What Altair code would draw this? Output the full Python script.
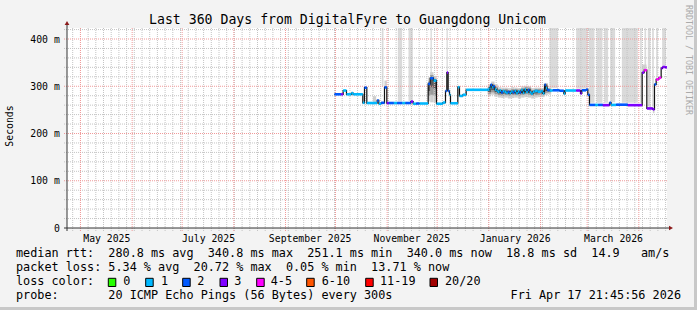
import altair as alt
import pandas as pd

# ---------------- data ----------------
T_START = "2025-04-22T21:45:56Z"
T_END = "2026-04-17T21:45:56Z"
BASE = "2025-10-01T00:00:00Z"          # day offsets below are counted from here

LOSS_LABELS = ["0", "1", "2", "3", "4-5", "6-10", "11-19", "20/20"]
LOSS_COLORS = ["#26ff00", "#00b8ff", "#0059ff", "#7e00ff", "#ff00ff", "#ff5500", "#ff0000", "#a10000"]

# median rtt step series: start day, value (ms), loss bucket (index into LOSS_LABELS)
med_day = [-0.6, 3.4, 4.6, 6.6, 9.6, 10.6, 16.4, 17.4, 18.8, 25.0, 26.0, 27.4, 29.4, 30.8,
           32.0, 35.0, 37.0, 40.0, 42.0, 45.2, 46.6, 48.4, 50.4, 55.6, 56.8, 58.8, 60.6, 64.4,
           66.0, 66.8, 67.6, 68.4, 69.0, 73.4, 74.4, 76.4, 78.4,
           91.4, 92.4, 93.0, 94.0, 94.8, 95.6, 96.6, 97.4, 98.4, 99.4, 100.4, 101.4, 102.4,
           103.4, 104.4, 105.4, 106.4, 107.4, 108.4, 109.4, 110.4, 111.4, 112.4, 113.4, 114.4,
           115.4, 116.4, 117.4, 118.4, 119.4, 121.4, 123.4, 124.4, 125.4, 126.2, 127.0, 128.4,
           130.4, 134.4, 137.0, 137.8, 144.4, 147.0, 147.8, 150.4, 151.4, 152.4, 155.8, 157.6,
           160.4, 164.4, 165.4, 168.4, 175.4, 184.0, 185.2, 186.8, 190.4, 191.4, 192.4, 194.0,
           195.4, 196.2, 198.0]
med_ms = [283.0, 283.0, 291.0, 283.0, 285.5, 283.0, 265.0, 297.0, 264.5, 270.0, 263.0, 265.0, 297.5, 264.5,
          264.5, 264.5, 264.5, 264.5, 264.5, 267.5, 263.0, 263.5, 263.5, 305.0, 317.0, 312.0, 263.0, 265.5,
          290.0, 329.0, 290.0, 282.0, 264.0, 298.0, 279.5, 282.0, 292.5,
          293.0, 297.0, 303.0, 298.0, 300.0, 293.0, 290.0, 288.0, 291.0, 287.0, 290.0, 288.0, 286.0,
          288.0, 285.5, 289.0, 287.0, 290.0, 285.5, 289.0, 287.0, 292.0, 286.0, 293.0, 288.0,
          292.0, 287.0, 284.5, 288.0, 290.0, 288.5, 290.0, 285.0, 303.0, 296.0, 292.0, 291.0,
          291.5, 290.5, 284.5, 291.0, 291.0, 285.0, 291.5, 293.0, 282.0, 260.5, 260.5, 260.5,
          260.0, 265.0, 260.5, 261.0, 260.0, 329.0, 334.0, 253.0, 251.1, 304.0, 314.5, 318.0,
          338.0, 340.8, 340.0]
med_loss = [2, 3, 1, 1, 1, 1, 1, 2, 1, 2, 1, 2, 2, 3,
            2, 1, 2, 1, 2, 3, 1, 2, 1, 2, 2, 1, 1, 1,
            2, 3, 2, 1, 1, 1, 1, 1, 1,
            1, 1, 2, 1, 2, 1, 1, 1, 1, 2, 1, 1, 1,
            2, 1, 1, 2, 1, 1, 1, 2, 1, 1, 1, 1,
            2, 1, 1, 1, 1, 1, 1, 1, 2, 1, 2, 1,
            2, 2, 1, 1, 3, 3, 2, 2, 2, 2, 1, 2,
            3, 2, 1, 2, 3, 3, 4, 3, 3, 2, 4, 4,
            3, 3, 3]

# smoke (spread of the individual pings): start, end, low, high per shade
smoke_outer = [  # (day0, day1, lo, hi)
    (22.4, 24.4, 264, 279), (29.4, 30.8, 297, 312), (55.6, 56.8, 268, 318),
    (56.8, 58.8, 266, 330), (58.8, 60.6, 266, 322), (184.0, 186.6, 334, 346),
    (190.4, 191.4, 243, 251)]
noisy_day = [91.4, 93.4, 95.4, 97.4, 99.4, 101.4, 103.4, 105.4, 107.4, 109.4, 111.4, 113.4,
             115.4, 117.4, 119.4, 121.4, 123.4, 125.4, 127.4, 129.4]
noisy_out_lo = [279, 282, 278, 276, 275, 276, 274, 275, 276, 274, 276, 277, 276, 274, 276, 277, 277, 281, 283]
noisy_out_hi = [303, 310, 304, 298, 297, 297, 296, 298, 297, 296, 300, 301, 300, 296, 297, 297, 296, 307, 297]
noisy_mid_lo = [284, 287, 283, 281, 280, 281, 280, 281, 281, 280, 282, 283, 282, 280, 281, 282, 281, 286, 287]
noisy_mid_hi = [299, 305, 299, 294, 293, 294, 292, 294, 294, 293, 296, 298, 297, 292, 294, 294, 293, 304, 295]
noisy_in_lo = [288, 292, 287, 285, 284, 285, 284, 284, 285, 284, 286, 287, 286, 284, 285, 286, 285, 290, 289]
noisy_in_hi = [296, 302, 296, 291, 290, 291, 289, 291, 291, 290, 293, 295, 294, 289, 291, 291, 290, 301, 293]
spike_mid = [(55.6, 56.8, 280, 310), (56.8, 58.8, 282, 324), (58.8, 60.6, 280, 316)]
spike_in = [(55.6, 56.8, 290, 306), (56.8, 58.8, 298, 320), (58.8, 60.6, 295, 314)]

# pings above the top of the graph: light bars from the top down to this value
tall_bars = [(27.8, 28.8, 300), (37.4, 40.0, 268), (43.8, 46.4, 269), (57.0, 57.8, 325),
             (66.6, 67.4, 331), (128.4, 133.4, 296), (144.4, 151.4, 295), (152.0, 155.4, 265),
             (156.6, 160.2, 265), (161.2, 163.6, 265), (164.8, 167.8, 266), (171.8, 181.4, 265),
             (182.8, 183.8, 265), (185.4, 186.4, 338), (187.4, 189.0, 257), (190.0, 191.0, 257),
             (192.4, 193.4, 318), (196.0, 198.4, 344)]

TITLE = "Last 360 Days from DigitalFyre to Guangdong Unicom"
LEGEND_LINES = [
    "median rtt:  280.8 ms avg  340.8 ms max  251.1 ms min  340.0 ms now  18.8 ms sd  14.9   am/s",
    "packet loss: 5.34 % avg  20.72 % max  0.05 % min  13.71 % now",
    "loss color:",
    "probe:       20 ICMP Echo Pings (56 Bytes) every 300s",
]
DATE_TEXT = "Fri Apr 17 21:45:56 2026"
Y_TICKS = [0, 100, 200, 300, 400]
MONTH_LABELS = ["2025-05-16T12:00:00Z", "2025-07-16T12:00:00Z", "2025-09-15T12:00:00Z",
                "2025-11-15T12:00:00Z", "2026-01-16T12:00:00Z", "2026-03-16T12:00:00Z"]

# ---------------- helpers ----------------
def ms_of(s):
    return int(pd.Timestamp(s).value // 10**6)

base_ms = ms_of(BASE)
start_ms = ms_of(T_START)
end_ms = ms_of(T_END)
DAY = 86400000


def ts(d):
    return base_ms + d * DAY


MONO = "DejaVu Sans Mono"
XS = alt.Scale(type="utc", domain=[start_ms, end_ms], nice=False)
YS = alt.Scale(domain=[0, 423.3], nice=False, zero=True)
XAX = alt.Axis(values=[ms_of(s) for s in MONTH_LABELS], format="%B %Y", labelFont=MONO,
               labelFontSize=9.8, labelColor="#000000", ticks=False, domain=False, grid=False,
               labelPadding=5, title=None, labelFlush=False, labelOverlap=False)
YAX = alt.Axis(values=Y_TICKS, labelExpr="datum.value == 0 ? '0\u00a0\u00a0' : datum.value + '\u00a0m'",
               labelFont=MONO, labelFontSize=9.8, labelColor="#000000", ticks=False,
               domain=False, grid=False, labelPadding=7.7, title=None)


def X(f):
    return alt.X(f, type="temporal", scale=XS, axis=XAX)


def Y(f):
    return alt.Y(f, type="quantitative", scale=YS, axis=YAX)


# ---------------- tables ----------------
seg = pd.DataFrame({
    "t": [ts(d) for d in med_day],
    "t2": [ts(d) for d in med_day[1:]] + [end_ms],
    "v": med_ms,
    "loss": [LOSS_LABELS[i] for i in med_loss],
})
line_df = pd.DataFrame({"t": list(seg["t"]) + [end_ms], "v": med_ms + [med_ms[-1]]})

bars_df = pd.DataFrame({"t": [ts(a) for a, b, c in tall_bars], "t2": [ts(b) for a, b, c in tall_bars],
                        "lo": [c for a, b, c in tall_bars]})


def rect_df(items):
    return pd.DataFrame({"t": [ts(a) for a, b, c, d in items], "t2": [ts(b) for a, b, c, d in items],
                         "lo": [c for a, b, c, d in items], "hi": [d for a, b, c, d in items]})


def noisy_df(lo, hi):
    return pd.DataFrame({"t": [ts(d) for d in noisy_day[:-1]], "t2": [ts(d) for d in noisy_day[1:]],
                         "lo": lo, "hi": hi})


smoke0 = pd.concat([rect_df(smoke_outer), noisy_df(noisy_out_lo, noisy_out_hi)])
smoke1 = pd.concat([rect_df(spike_mid), noisy_df(noisy_mid_lo, noisy_mid_hi)])
smoke2 = pd.concat([rect_df(spike_in), noisy_df(noisy_in_lo, noisy_in_hi)])

# grid positions
minor_h = pd.DataFrame({"g": [v for v in range(20, 424, 20) if v % 100 != 0]})
major_h = pd.DataFrame({"g": [100, 200, 300, 400]})
major_v = pd.DataFrame({"g": [ms_of(f"{y}-{m:02d}-01T00:00:00Z") for y, m in
                              [(2025, 5), (2025, 6), (2025, 7), (2025, 8), (2025, 9), (2025, 10),
                               (2025, 11), (2025, 12), (2026, 1), (2026, 2), (2026, 3), (2026, 4)]]})
minor_v_list = []
t = start_ms + 3.42 * DAY
while t < end_ms:
    minor_v_list.append(t)
    t += 4.62 * DAY
minor_v = pd.DataFrame({"g": minor_v_list})

color_scale = alt.Scale(domain=LOSS_LABELS, range=LOSS_COLORS)
one = alt.Data(values=[{}])

# ---------------- layers ----------------
layers = []
layers.append(alt.Chart(bars_df).mark_rect(color="#dadada").encode(
    x=X("t"), x2="t2", y=Y("lo"), y2=alt.value(0)))
for df, col in [(smoke0, "#cfcfcf"), (smoke1, "#9a9a9a"), (smoke2, "#5a5a5a")]:
    layers.append(alt.Chart(df).mark_rect(color=col).encode(x=X("t"), x2="t2", y=Y("lo"), y2="hi"))

layers.append(alt.Chart(minor_h).mark_rule(color="#c4c4c4", strokeDash=[1, 1], strokeWidth=1).encode(
    y=Y("g"), x=alt.value(-3), x2=alt.value(600)))
layers.append(alt.Chart(minor_v).mark_rule(color="#c4c4c4", strokeDash=[1, 1], strokeWidth=1).encode(
    x=X("g"), y=alt.value(0), y2=alt.value(203)))
layers.append(alt.Chart(major_h).mark_rule(color="#f09a9a", strokeDash=[1, 1], strokeWidth=1).encode(
    y=Y("g"), x=alt.value(-3), x2=alt.value(600)))
layers.append(alt.Chart(major_v).mark_rule(color="#f09a9a", strokeDash=[1, 1], strokeWidth=1).encode(
    x=X("g"), y=alt.value(0), y2=alt.value(203)))

layers.append(alt.Chart(line_df).mark_line(interpolate="step-after", color="#111111", strokeWidth=1.2).encode(
    x=X("t"), y=Y("v")))
layers.append(alt.Chart(seg).mark_rule(strokeWidth=2.6, strokeCap="butt").encode(
    x=X("t"), x2="t2", y=Y("v"),
    color=alt.Color("loss:N", scale=color_scale, legend=None)))

# axis lines and arrows
layers.append(alt.Chart(one).mark_rule(color="#333333", strokeWidth=1).encode(
    x=alt.value(0), y=alt.value(203), y2=alt.value(-4)))
layers.append(alt.Chart(one).mark_rule(color="#333333", strokeWidth=1).encode(
    x=alt.value(-3), x2=alt.value(603), y=alt.value(200)))
layers.append(alt.Chart(one).mark_point(shape="triangle-up", filled=True, size=22, color="#8b1a1a", opacity=1).encode(
    x=alt.value(0), y=alt.value(-5)))
layers.append(alt.Chart(one).mark_point(shape="triangle-right", filled=True, size=22, color="#8b1a1a", opacity=1).encode(
    x=alt.value(604), y=alt.value(200)))

# frame of the image (right and bottom shade)
layers.append(alt.Chart(one).mark_rule(color="#c8c8c8", strokeWidth=3).encode(
    x=alt.value(628.5), y=alt.value(-28), y2=alt.value(282)))
layers.append(alt.Chart(one).mark_rule(color="#c8c8c8", strokeWidth=3).encode(
    x=alt.value(-67), x2=alt.value(630), y=alt.value(280.5)))

# texts
layers.append(alt.Chart(one).mark_text(text=TITLE, font=MONO, fontSize=13.2, align="center",
                                       baseline="alphabetic", color="#000000").encode(
    x=alt.value(280.5), y=alt.value(-4)))
layers.append(alt.Chart(one).mark_text(text="Seconds", font=MONO, fontSize=9.8, angle=270, align="center",
                                       baseline="middle", color="#000000").encode(
    x=alt.value(-57), y=alt.value(98)))
layers.append(alt.Chart(one).mark_text(text="RRDTOOL / TOBI OETIKER", font=MONO, fontSize=8.3, angle=90,
                                       align="center", baseline="middle", color="#aaaaaa").encode(
    x=alt.value(620.5), y=alt.value(32)))
LEG_Y = [229.3, 243.3, 257.3, 271.3]
for txt, yy in zip(LEGEND_LINES, LEG_Y):
    layers.append(alt.Chart(one).mark_text(text=txt.replace(" ", "\u00a0"), font=MONO, fontSize=11.8,
                                           align="left", baseline="alphabetic", color="#000000").encode(
        x=alt.value(-51), y=alt.value(yy)))
layers.append(alt.Chart(one).mark_text(text=DATE_TEXT.replace(" ", "\u00a0"), font=MONO, fontSize=11.8,
                                       align="right", baseline="alphabetic", color="#000000").encode(
    x=alt.value(614), y=alt.value(271.3)))

BOX_X = [41.3, 78.7, 115.7, 153.0, 189.7, 239.7, 298.7, 363.0]
LAB_X = [56.3, 94.0, 130.3, 167.3, 203.7, 254.7, 313.0, 378.0]
box_df = pd.DataFrame({"loss": LOSS_LABELS, "bx": BOX_X, "bx2": [b + 7.5 for b in BOX_X], "lx": LAB_X})
layers.append(alt.Chart(box_df).mark_rect(stroke="#000000", strokeWidth=1).encode(
    x=alt.X("bx:Q", scale=None, axis=None), x2="bx2",
    y=alt.value(250.3), y2=alt.value(258.5),
    color=alt.Color("loss:N", scale=color_scale, legend=None)))
layers.append(alt.Chart(box_df).mark_text(font=MONO, fontSize=11.8, align="left", baseline="alphabetic",
                                          color="#000000").encode(
    x=alt.X("lx:Q", scale=None, axis=None), y=alt.value(257.3), text="loss:N"))

chart = alt.layer(*layers).properties(
    width=600, height=200,
    padding={"left": 67, "top": 28, "right": 30, "bottom": 82},
    autosize=alt.AutoSizeParams(type="none"),
    background="#f3f3f3",
).configure_view(fill="#ffffff", stroke=None)

chart.save("out.html", embed_options={"renderer": "svg", "actions": False})
